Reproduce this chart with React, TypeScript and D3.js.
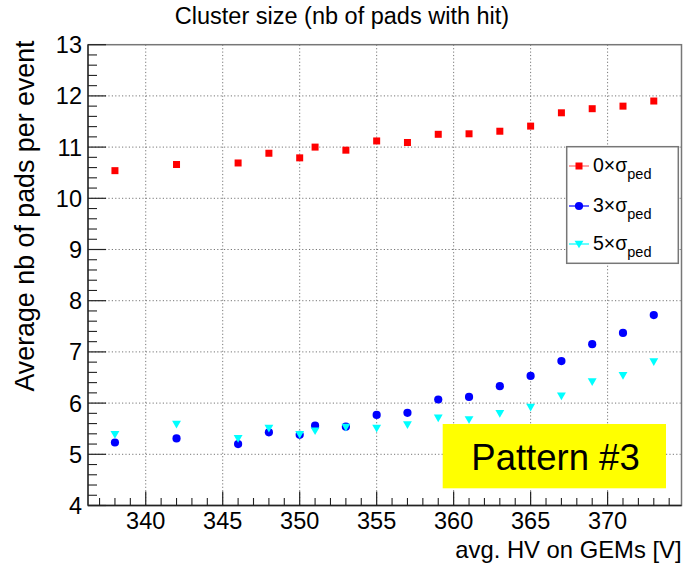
import React from "react";
import * as d3 from "d3";

const hv = [338, 342, 346, 348, 350, 351, 353, 355, 357, 359, 361, 363, 365, 367, 369, 371, 373];
const sigma0 = [10.54, 10.66, 10.69, 10.88, 10.79, 11.0, 10.94, 11.12, 11.09, 11.25, 11.26, 11.31, 11.41, 11.67, 11.75, 11.8, 11.9];
const sigma3 = [5.23, 5.31, 5.2, 5.43, 5.38, 5.56, 5.54, 5.77, 5.81, 6.07, 6.12, 6.33, 6.53, 6.82, 7.15, 7.37, 7.72];
const sigma5 = [5.39, 5.59, 5.31, 5.51, 5.39, 5.46, 5.53, 5.51, 5.58, 5.71, 5.68, 5.8, 5.92, 6.14, 6.42, 6.54, 6.81];
const xTicks = [340, 345, 350, 355, 360, 365, 370];
const yTicks = [4, 5, 6, 7, 8, 9, 10, 11, 12, 13];
const legendLabels = ["0", "3", "5"];

const W = 692;
const H = 570;
const L = 88;
const R = 681.5;
const T = 44.7;
const B = 505.5;
const FONT = "'Liberation Sans', Arial, Helvetica, sans-serif";

export default function App() {
  const x = d3.scaleLinear().domain([336.25, 374.8]).range([L, R]);
  const y = d3.scaleLinear().domain([4, 13]).range([B, T]);

  const xMinor = d3.range(337, 375, 1).filter((v) => v % 5 !== 0);
  const yMinor = d3.range(4, 13.001, 0.2).map((v) => Math.round(v * 10) / 10).filter((v) => Math.abs(v - Math.round(v)) > 1e-6);

  const tri = d3.symbol().type(d3.symbolTriangle).size(34)();

  const series = [
    { vals: sigma0, color: "#ff0000", line: "#ff6666", kind: "square" },
    { vals: sigma3, color: "#0000ff", line: "#0000ff", kind: "circle" },
    { vals: sigma5, color: "#00ffff", line: "#00ffff", kind: "tri" },
  ];

  const marker = (kind: string, color: string, cx: number, cy: number, key: any) => {
    if (kind === "square") return <rect key={key} x={cx - 3.5} y={cy - 3.5} width={7} height={7} fill={color} />;
    if (kind === "circle") return <circle key={key} cx={cx} cy={cy} r={4.1} fill={color} />;
    return <path key={key} d={tri as string} transform={`translate(${cx},${cy - 0.8}) rotate(180)`} fill={color} />;
  };

  const legY = [166, 206, 244];

  return (
    <svg width={W} height={H} style={{ display: "block", position: "absolute", left: 0, top: 0, background: "#fff" }} fontFamily={FONT}>
      <rect x={0} y={0} width={W} height={H} fill="#fff" />
      {/* grid */}
      {xTicks.map((t) => (
        <line key={"gx" + t} x1={x(t)} x2={x(t)} y1={T} y2={B} stroke="#777" strokeWidth={1} strokeDasharray="1.2,2.2" />
      ))}
      {yTicks.filter((t) => t > 4 && t < 13).map((t) => (
        <line key={"gy" + t} x1={L} x2={R} y1={y(t)} y2={y(t)} stroke="#777" strokeWidth={1} strokeDasharray="1.2,2.2" />
      ))}
      {/* frame */}
      <rect x={L} y={T} width={R - L} height={B - T} fill="none" stroke="#777" strokeWidth={1.5} />
      {/* x ticks */}
      <line x1={L} x2={R} y1={B} y2={B} stroke="#222" strokeWidth={1.3} />
      {xTicks.map((t) => (
        <line key={"xt" + t} x1={x(t)} x2={x(t)} y1={B} y2={B - 14} stroke="#222" strokeWidth={1.2} />
      ))}
      {xMinor.map((t) => (
        <line key={"xm" + t} x1={x(t)} x2={x(t)} y1={B} y2={B - 7.5} stroke="#222" strokeWidth={1.1} />
      ))}
      {xTicks.map((t) => (
        <text key={"xl" + t} x={x(t)} y={529} textAnchor="middle" fontSize={23.5} fill="#000">{t}</text>
      ))}
      {/* y ticks */}
      <line x1={L} x2={L} y1={T} y2={B} stroke="#222" strokeWidth={1.3} />
      {yTicks.map((t) => (
        <line key={"yt" + t} x1={L} x2={L + 18} y1={y(t)} y2={y(t)} stroke="#222" strokeWidth={1.2} />
      ))}
      {yMinor.map((t) => (
        <line key={"ym" + t} x1={L} x2={L + 9} y1={y(t)} y2={y(t)} stroke="#222" strokeWidth={1.1} />
      ))}
      {yTicks.map((t) => (
        <text key={"yl" + t} x={82} y={y(t) + 8.5} textAnchor="end" fontSize={23.5} fill="#000">{t}</text>
      ))}
      {/* data */}
      {series.map((s, si) =>
        s.vals.map((v, i) => marker(s.kind, s.color, x(hv[i]), y(v), `m${si}-${i}`))
      )}
      {/* legend */}
      <rect x={566.7} y={146.7} width={111.6} height={116.6} fill="#fff" stroke="#777" strokeWidth={1.5} />
      {series.map((s, i) => (
        <g key={"lg" + i}>
          <line x1={569} x2={589} y1={legY[i]} y2={legY[i]} stroke={s.line} strokeWidth={1.2} />
          {marker(s.kind, s.color, 579, legY[i], "lm" + i)}
          <text x={593} y={legY[i] + 6} fontSize={19.5} fill="#000">
            {legendLabels[i]}×σ
            <tspan dy={6.5} fontSize={14.5}>ped</tspan>
          </text>
        </g>
      ))}
      {/* pattern box */}
      <rect x={442.7} y={424} width={223.3} height={64.3} fill="#ffff00" />
      <text x={555.5} y={470} textAnchor="middle" fontSize={36.5} fill="#000">Pattern #3</text>
      {/* titles */}
      <text x={342} y={24} textAnchor="middle" fontSize={23.5} fill="#000">Cluster size (nb of pads with hit)</text>
      <text x={R} y={558} textAnchor="end" fontSize={23.8} fill="#000">avg. HV on GEMs [V]</text>
      <text transform={`translate(34,216) rotate(-90)`} textAnchor="middle" fontSize={26.8} fill="#000">Average nb of pads per event</text>
    </svg>
  );
}
